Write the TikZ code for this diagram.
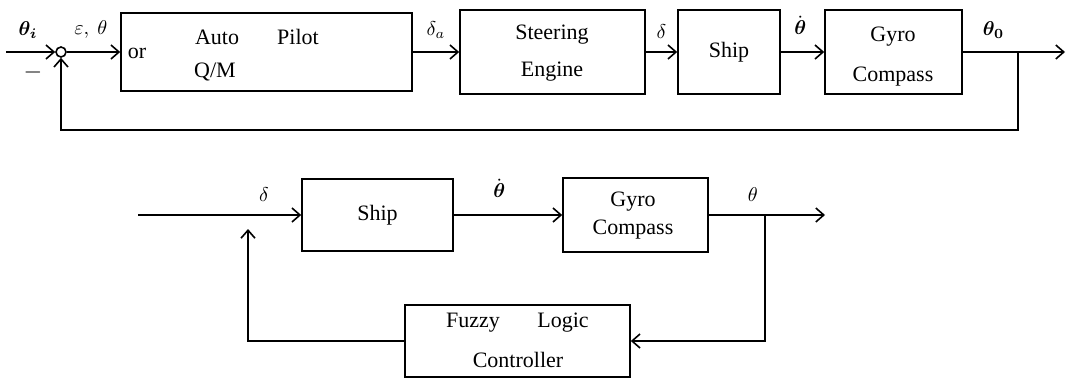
\documentclass[tikz,border=0pt]{standalone}
\usepackage{amsmath}
\usepackage{fontspec}
\setmainfont{Liberation Serif}
\usetikzlibrary{arrows.meta}
\tikzset{
  blk/.style={draw,inner sep=0pt},
  txt/.style={font=\fontsize{11}{13}\selectfont,inner sep=0pt},
  sig/.style={->}
}
\begin{document}
\begin{tikzpicture}[x=0.5pt,y=-0.5pt,line width=0.8pt,>={Straight Barb[length=4pt,width=7pt]}]
\useasboundingbox (0,0) rectangle (1069,380);

% upper loop
\node[blk,circle,minimum size=5pt] (sum) at (61,52) {};
\node[blk,minimum width=145.5pt,minimum height=39pt] (pilot) at (266.5,52) {};
\node[blk,minimum width=92.5pt,minimum height=42pt] (steer) at (552.5,52) {};
\node[blk,txt,minimum width=51pt,minimum height=42pt] (ship) at (729,52) {Ship};
\node[blk,minimum width=68.5pt,minimum height=42pt] (gyro) at (893.5,52) {};

\node[txt] at (217,37) {Auto};
\node[txt] at (298,37) {Pilot};
\node[txt] at (137,53) {or};
\node[txt] at (215,72) {Q/M};
\node[txt] at (552,35) {Steering};
\node[txt] at (552,72) {Engine};
\node[txt] at (893,37) {Gyro};
\node[txt] at (893,77) {Compass};

\coordinate (in) at (6,52);
\coordinate (out) at (1065,52);
\coordinate (tap) at (1018,52);

\draw[sig] (in) -- (sum.west) node[pos=0.45,above=3pt] {$\boldsymbol{\theta_i}$};
\draw (sum.south west) ++(-24,16) node {\large$-$};
\draw[sig] (sum.east) -- (pilot.west) node[pos=0.45,above=3pt] {$\varepsilon,\ \theta$};
\draw[sig] (pilot.east) -- (steer.west) node[midway,above=3pt] {$\delta_a$};
\draw[sig] (steer.east) -- (ship.west) node[midway,above=3pt] {$\delta$};
\draw[sig] (ship.east) -- (gyro.west) node[pos=0.45,above=5pt] {$\dot{\boldsymbol{\theta}}$};
\draw[sig] (gyro.east) -- (out) node[pos=0.3,above=3pt] {$\boldsymbol{\theta_0}$};
\draw[sig] (tap) -- ++(0,78) -| (sum.south);

% lower loop
\node[blk,txt,minimum width=75.5pt,minimum height=36pt] (ship2) at (377.5,215) {Ship};
\node[blk,minimum width=72.5pt,minimum height=37pt] (gyro2) at (635.5,215) {};
\node[blk,minimum width=112.5pt,minimum height=36pt] (fuzzy) at (517.5,341) {};

\node[txt] at (633,202) {Gyro};
\node[txt] at (633,230) {Compass};
\node[txt] at (473,323) {Fuzzy};
\node[txt] at (563,323) {Logic};
\node[txt] at (518,360) {Controller};

\coordinate (in2) at (138,215);
\coordinate (join) at (248,215);
\coordinate (tap2) at (765,215);
\coordinate (out2) at (825,215);

\draw (in2) -- (join);
\draw[sig] (join) -- (ship2.west) node[pos=0.3,above=3pt] {$\delta$};
\draw[sig] (ship2.east) -- (gyro2.west) node[pos=0.42,above=5pt] {$\dot{\boldsymbol{\theta}}$};
\draw[sig] (gyro2.east) -- (out2) node[pos=0.38,above=3pt] {$\theta$};
\draw[sig] (tap2) |- (fuzzy.east);
\draw[sig] (fuzzy.west) -| ([yshift=-7]join);
\end{tikzpicture}
\end{document}
